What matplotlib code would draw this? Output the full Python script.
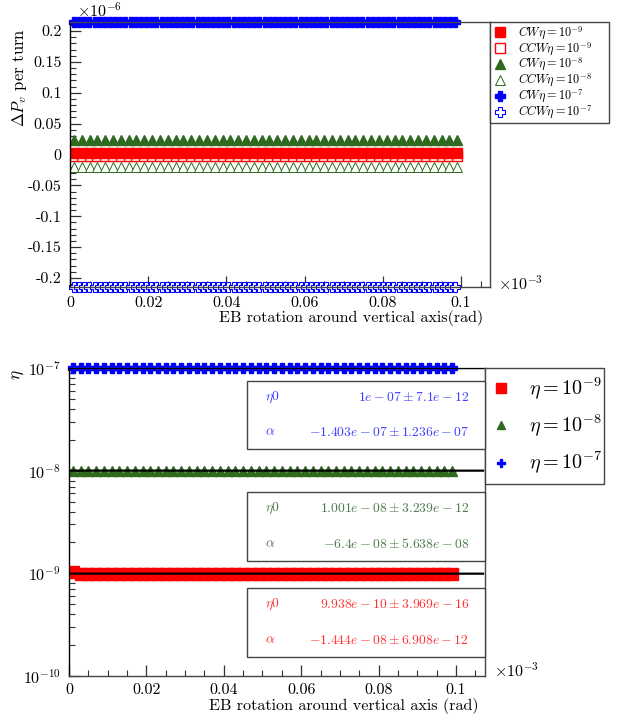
import numpy as np
import matplotlib
matplotlib.use("Agg")
import matplotlib.pyplot as plt
from matplotlib.ticker import MultipleLocator, LogLocator, NullFormatter

plt.rcParams["font.family"] = ["cmr10", "DejaVu Serif"]
plt.rcParams["mathtext.fontset"] = "cm"
plt.rcParams["axes.unicode_minus"] = False
plt.rcParams["axes.formatter.use_mathtext"] = True

# scan of the EB rotation angle, in units of 1e-3 rad
x_step2 = np.arange(0.001, 0.1, 0.002)   # 50 points
x_dense = np.linspace(0.001, 0.0985, 75)

# top panel: Delta P_v per turn, in units of 1e-6
dpv_cw_9 = 0.0025
dpv_ccw_9 = -0.0025
dpv_cw_8 = 0.0227
dpv_ccw_8 = -0.021
dpv_cw_7 = 0.214
dpv_ccw_7 = -0.214

# bottom panel: eta values and fit results
eta_9 = 9.938e-10
eta_9_first = 1.03e-9
eta_8 = 1.0e-8
eta_7 = 1.0e-7
fit_eta0 = [1e-07, 1.001e-08, 9.938e-10]
fit_alpha = [-1.403e-07, -6.4e-08, -1.444e-08]
fit_text = [
    (r"$1e-07\pm7.1e-12$", r"$-1.403e-07\pm1.236e-07$"),
    (r"$1.001e-08\pm3.239e-12$", r"$-6.4e-08\pm5.638e-08$"),
    (r"$9.938e-10\pm3.969e-16$", r"$-1.444e-08\pm6.908e-12$"),
]

RED = "#ff0000"
GREEN = "#2e6b1e"
BLUE = "#0000ff"
TXT_COLORS = ["#3c3cff", "#4a7a4a", "#ff3030"]
FRAME = "#444444"

W, H = 619, 719
fig = plt.figure(figsize=(W / 100, H / 100), dpi=100)


def px_axes(left, top, right, bottom):
    return fig.add_axes([left / W, 1 - bottom / H, (right - left) / W, (bottom - top) / H])


def style_axes(ax, xpad):
    for sp in ax.spines.values():
        sp.set_color(FRAME)
        sp.set_linewidth(1.0)
    ax.spines["left"].set_color("black")
    ax.tick_params(which="both", direction="in", top=False, right=False,
                   labelsize=11.5, color="#333333")
    ax.tick_params(axis="y", pad=6)
    ax.tick_params(axis="x", pad=xpad)
    ax.tick_params(which="major", length=8, width=0.9)
    ax.tick_params(which="minor", length=4.5, width=0.8)
    ax.xaxis.set_major_locator(MultipleLocator(0.02))
    ax.xaxis.set_minor_locator(MultipleLocator(0.005))


# ---------------- top panel ----------------
ax1 = px_axes(70, 22, 490, 287)
style_axes(ax1, 7)
ax1.set_xlim(0, 0.1074)
ax1.set_ylim(-0.2146, 0.2146)
ax1.yaxis.set_major_locator(MultipleLocator(0.05))
ax1.yaxis.set_minor_locator(MultipleLocator(0.01))
ax1.yaxis.set_major_formatter(plt.FuncFormatter(lambda v, p: f"{v:g}"))
ax1.xaxis.set_major_formatter(plt.FuncFormatter(lambda v, p: f"{v:g}"))

ax1.plot(x_step2, np.full_like(x_step2, dpv_cw_9), "s", color=RED, ms=7.5,
         mec=RED, ls="none", label=r"$CW\eta=10^{-9}$")
ax1.plot(x_step2, np.full_like(x_step2, dpv_ccw_9), "s", mfc="white", mec=RED,
         ms=7.5, mew=1.0, ls="none", label=r"$CCW\eta=10^{-9}$", zorder=1.9)
ax1.plot(x_step2, np.full_like(x_step2, dpv_cw_8), "^", color=GREEN, ms=6.5,
         ls="none", label=r"$CW\eta=10^{-8}$")
ax1.plot(x_step2, np.full_like(x_step2, dpv_ccw_8), "^", mfc="white", mec=GREEN,
         ms=6.5, mew=0.7, ls="none", label=r"$CCW\eta=10^{-8}$")
ax1.plot(x_dense, np.full_like(x_dense, dpv_cw_7), "P", color=BLUE, ms=6.5,
         ls="none", clip_on=False, label=r"$CW\eta=10^{-7}$")
ax1.plot(x_dense, np.full_like(x_dense, dpv_ccw_7), "P", mfc="white", mec=BLUE,
         ms=6.5, mew=0.8, ls="none", clip_on=False, label=r"$CCW\eta=10^{-7}$")

leg1 = ax1.legend(loc="upper left", bbox_to_anchor=(1.0, 0.0, 119 / 420, 1.0),
                  mode="expand", borderaxespad=0,
                  fancybox=False, edgecolor=FRAME, fontsize=8.8, handlelength=1.2,
                  handletextpad=0.9, labelspacing=-0.12, borderpad=0.2,
                  framealpha=1)
leg1.get_frame().set_linewidth(1.0)

ax1.set_ylabel(r"$\Delta P_v$ per turn", fontsize=12, loc="top")
ax1.yaxis.set_label_coords(-0.097, 0.975)
ax1.set_xlabel("EB rotation around vertical axis(rad)", fontsize=11.6, loc="right")
ax1.xaxis.set_label_coords(1.0 - 7 / 420, -0.085)
fig.text(77 / W, 1 - 10 / H, r"$\times10^{-6}$", fontsize=11.5, va="center")
fig.text(498 / W, 1 - 283 / H, r"$\times10^{-3}$", fontsize=11.5, va="center")

# ---------------- bottom panel ----------------
ax2 = px_axes(69, 368, 485, 676)
style_axes(ax2, 5)
ax2.set_xlim(0, 0.1075)
ax2.set_yscale("log")
ax2.set_ylim(1e-10, 1e-7)
ax2.yaxis.set_major_locator(LogLocator(base=10, numticks=10))
ax2.yaxis.set_minor_locator(LogLocator(base=10, subs=np.arange(2, 10), numticks=20))
ax2.yaxis.set_minor_formatter(NullFormatter())
ax2.xaxis.set_major_formatter(plt.FuncFormatter(lambda v, p: f"{v:g}"))

red_vals = np.full_like(x_step2, eta_9)
red_vals[0] = eta_9_first
ax2.plot(x_step2, red_vals, "s", color=RED, ms=9, ls="none", label=r"$\eta=10^{-9}$")
ax2.plot(x_step2, np.full_like(x_step2, eta_8), "^", color=GREEN, ms=6.5,
         ls="none", label=r"$\eta=10^{-8}$")
ax2.plot(x_step2, np.full_like(x_step2, eta_7), "P", color=BLUE, ms=7.5,
         ls="none", clip_on=False, label=r"$\eta=10^{-7}$")

x_fit = np.array([0.0, 0.107])
for e0, al in zip(fit_eta0, fit_alpha):
    ax2.plot(x_fit, e0 + al * x_fit * 1e-3, color="black", lw=1.6, zorder=3)

leg2 = ax2.legend(loc="upper left", bbox_to_anchor=(1.0, 0.0, 119 / 416, 1.0),
                  mode="expand", borderaxespad=0,
                  fancybox=False, edgecolor=FRAME, fontsize=14.5, handlelength=0.8,
                  handletextpad=1.0, labelspacing=0.55, borderpad=0.4,
                  markerscale=0.8, framealpha=1)
leg2.get_frame().set_linewidth(1.0)

# fit result boxes
boxes = [(381, 449), (492, 561), (588, 657)]
for (btop, bbot), (t0, ta), col in zip(boxes, fit_text, TXT_COLORS):
    rect = plt.Rectangle((247 / W, 1 - bbot / H), (485 - 247) / W, (bbot - btop) / H,
                         transform=fig.transFigure, facecolor="white",
                         edgecolor=FRAME, lw=1.0, zorder=5)
    fig.add_artist(rect)
    r1 = btop + (bbot - btop) * 0.24
    r2 = btop + (bbot - btop) * 0.76
    fig.text(265 / W, 1 - r1 / H, r"$\eta0$", color=col, fontsize=9.8, va="center", zorder=6)
    fig.text(265 / W, 1 - r2 / H, r"$\alpha$", color=col, fontsize=9.8, va="center", zorder=6)
    fig.text(469 / W, 1 - r1 / H, t0, color=col, fontsize=9.8, va="center", ha="right", zorder=6)
    fig.text(469 / W, 1 - r2 / H, ta, color=col, fontsize=9.8, va="center", ha="right", zorder=6)

ax2.set_ylabel(r"$\eta$", fontsize=12.5, loc="top")
ax2.yaxis.set_label_coords(-0.103, 0.995)
ax2.set_xlabel("EB rotation around vertical axis (rad)", fontsize=11.6, loc="right")
ax2.xaxis.set_label_coords(1.0 - 6 / 416, -0.07)
fig.text(494 / W, 1 - 670 / H, r"$\times10^{-3}$", fontsize=11.5, va="center")

fig.savefig("out.png", dpi=100)
